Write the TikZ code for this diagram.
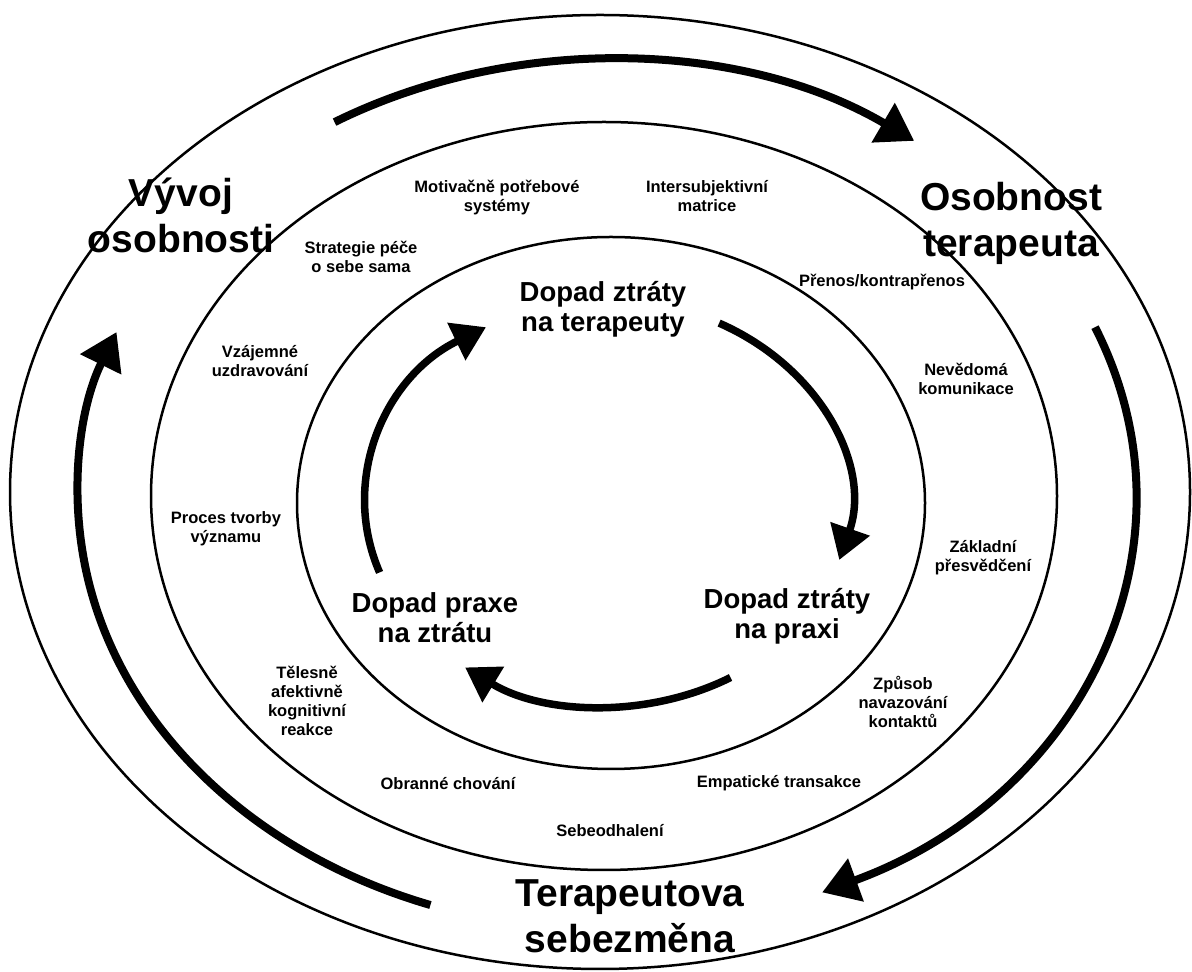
\documentclass[tikz,border=0pt]{standalone}
\usepackage{fontspec}
\setmainfont{Liberation Sans}
\usetikzlibrary{arrows.meta,calc}
\tikzset{
  ring/.style={draw=black, line width=2.5pt},
  bigarrow/.style={line width=8pt, -{Triangle[length=36pt,width=44pt]}},
  innerarrow/.style={line width=7.5pt, -{Triangle[length=33pt,width=40pt]}},
  biglabel/.style={font=\fontsize{39}{46}\selectfont\bfseries, align=center, inner sep=0pt, anchor=base},
  midlabel/.style={font=\fontsize{27.5}{30.5}\selectfont\bfseries, align=center, inner sep=0pt, anchor=base},
  smalllabel/.style={font=\fontsize{16.5}{19.3}\selectfont\bfseries, align=center, inner sep=0pt, anchor=base}
}
\begin{document}
\begin{tikzpicture}[x=1pt,y=1pt]
\useasboundingbox[fill=white] (0,0) rectangle (1192,972);
% centres
\coordinate (OC) at (600,480);
\coordinate (MC) at (604,476);
\coordinate (IC) at (611,469);
\coordinate (BC) at (607,477);
\coordinate (SC) at (607,469);
% rings
\draw[ring] (OC) ellipse [x radius=590pt, y radius=477pt];
\draw[ring] (MC) ellipse [x radius=453pt, y radius=374pt];
\draw[ring] (IC) ellipse [x radius=314pt, y radius=266pt];
% outer cycle arrows
\draw[bigarrow] ($(BC)+(121:529pt and 435pt)$) arc[start angle=121, end angle=54.5, x radius=529pt, y radius=435pt];
\draw[bigarrow] ($(BC)+(22.7:529pt and 435pt)$) arc[start angle=22.7, end angle=-66, x radius=529pt, y radius=435pt];
\draw[bigarrow] ($(BC)+(250.5:529pt and 435pt)$) arc[start angle=250.5, end angle=158, x radius=529pt, y radius=435pt];
% inner cycle arrows
\draw[innerarrow] ($(SC)+(200:242pt and 203pt)$) arc[start angle=200, end angle=120, x radius=242pt, y radius=203pt];
\draw[innerarrow] ($(SC)+(62.4:242pt and 203pt)$) arc[start angle=62.4, end angle=-16.3, x radius=242pt, y radius=203pt];
\draw[innerarrow] ($(SC)+(-59.3:242pt and 203pt)$) arc[start angle=-59.3, end angle=-125.9, x radius=242pt, y radius=203pt];
% big labels (anchor = baseline of last line)
\node[biglabel] (dev) at (181,719) {Vývoj\\osobnosti};
\node[biglabel] (pers) at (1011,715) {Osobnost\\terapeuta};
\node[biglabel] (change) at (630,19) {Terapeutova\\sebezměna};
% inner labels
\node[midlabel] (ther) at (603,640) {Dopad ztráty\\na terapeuty};
\node[midlabel] (prax) at (787,333) {Dopad ztráty\\na praxi};
\node[midlabel] (loss) at (435,329) {Dopad praxe\\na ztrátu};
% small labels
\node[smalllabel] (s1) at (497,760) {Motivačně potřebové\\systémy};
\node[smalllabel] (s2) at (707,760) {Intersubjektivní\\matrice};
\node[smalllabel] (s3) at (361,699) {Strategie péče\\o sebe sama};
\node[smalllabel] (s4) at (882,685) {Přenos/kontrapřenos};
\node[smalllabel] (s5) at (260,595) {Vzájemné\\uzdravování};
\node[smalllabel] (s6) at (966,577) {Nevědomá\\komunikace};
\node[smalllabel] (s7) at (226,429) {Proces tvorby\\významu};
\node[smalllabel] (s8) at (983,400) {Základní\\přesvědčení};
\node[smalllabel] (s9) at (307,236) {Tělesně\\afektivně\\kognitivní\\reakce};
\node[smalllabel] (s10) at (903,244) {Způsob\\navazování\\kontaktů};
\node[smalllabel] (s11) at (448,182) {Obranné chování};
\node[smalllabel] (s12) at (779,184) {Empatické transakce};
\node[smalllabel] (s13) at (610,135) {Sebeodhalení};
\end{tikzpicture}
\end{document}
